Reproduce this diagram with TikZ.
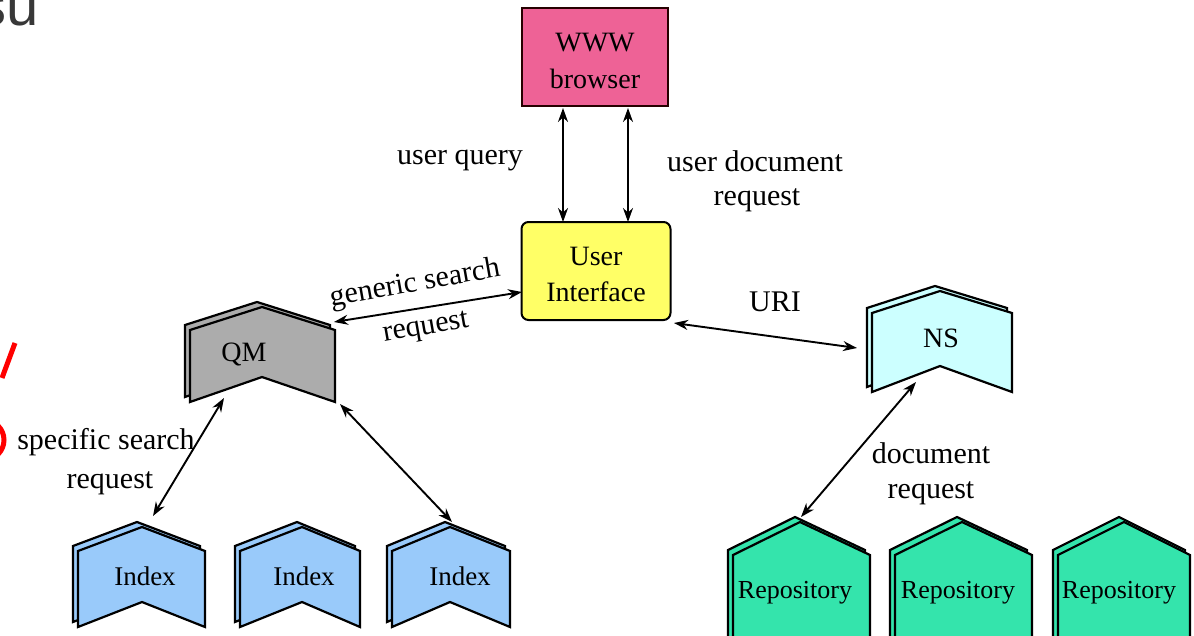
\documentclass[tikz,border=0pt]{standalone}
\usepackage{fontspec}
\setmainfont{Liberation Serif}
\newfontfamily\sansfnt{Liberation Sans}
\usetikzlibrary{arrows.meta}
\definecolor{pinkbox}{RGB}{238,98,150}
\definecolor{yellowbox}{RGB}{255,255,102}
\definecolor{qmgray}{RGB}{172,172,172}
\definecolor{idxblue}{RGB}{153,202,250}
\definecolor{nscyan}{RGB}{204,255,255}
\definecolor{repogreen}{RGB}{52,228,172}
\tikzset{
  lbl/.style={inner sep=0pt, font=\fontsize{30}{34}\selectfont},
  boxtxt/.style={inner sep=0pt, font=\fontsize{28}{34}\selectfont, align=center},
  shapeline/.style={draw=black, line width=2.2pt, line join=miter},
  conn/.style={line width=1.9pt, {Stealth[length=14pt,width=10pt]}-{Stealth[length=14pt,width=10pt]}}
}
% chevron: #1 L, #2 R, #3 P, #4 top corner y, #5 peak y, #6 bottom y, #7 notch y, #8 fill
\newcommand\chevshape[8]{%
  \filldraw[shapeline, fill=#8] ({#1-5},{#4-5}) -- ({#3-5},{#5-5}) -- ({#2-5},{#4-5}) -- ({#2-5},{#6-5}) -- ({#3-5},{#7-5}) -- ({#1-5},{#6-5}) -- cycle;
  \filldraw[shapeline, fill=#8] (#1,#4) -- (#3,#5) -- (#2,#4) -- (#2,#6) -- (#3,#7) -- (#1,#6) -- cycle;
}
% house: #1 L, #2 R, #3 P, #4 shoulder y, #5 peak y, #6 fill
\newcommand\houseshape[6]{%
  \filldraw[shapeline, fill=#6] ({#1-5},700) -- ({#1-5},{#4-5}) -- ({#3-5},{#5-5}) -- ({#2-5},{#4-5}) -- ({#2-5},700) -- cycle;
  \filldraw[shapeline, fill=#6] (#1,700) -- (#1,#4) -- (#3,#5) -- (#2,#4) -- (#2,700) -- cycle;
}
\begin{document}
\begin{tikzpicture}[x=1pt,y=-1pt]
\useasboundingbox (0,0) rectangle (1194,635);
\clip (0,0) rectangle (1194,635);
\fill[white] (0,0) rectangle (1194,635);

% fragments of neighbouring slide
\node[anchor=base east, inner sep=0pt, text=black!78, font=\sansfnt\fontsize{58}{58}\selectfont] (su) at (39,25) {su};
\draw[red, line width=5pt] (15,343) -- (2,378);
\draw[red, line width=5pt] (-16,440) circle (20);

% WWW browser
\node[draw=black!85!red, line width=2pt, fill=pinkbox, minimum width=146pt, minimum height=98pt, inner sep=0pt] (www) at (595,57) {};
\node[boxtxt] (wwwtxt) at (595,43) {WWW};
\node[boxtxt] (browsertxt) at (595,79) {browser};

% User interface
\node[draw=black, line width=2pt, fill=yellowbox, rounded corners=7pt, minimum width=149pt, minimum height=98pt, inner sep=0pt] (ui) at (596,271) {};
\node[boxtxt] (uitxt1) at (596,256) {User};
\node[boxtxt] (uitxt2) at (596,292) {Interface};

% QM
\chevshape{190}{335}{262}{330}{307}{402}{377}{qmgray}
\node[boxtxt] (qm) at (244,354) {QM};
% NS
\chevshape{872}{1012}{940}{313}{291}{392}{366}{nscyan}
\node[boxtxt] (ns) at (941,338) {NS};
% Index shapes
\chevshape{78}{205}{142}{551}{527}{627}{602}{idxblue}
\node[boxtxt, font=\fontsize{27}{30}\selectfont] (idx1) at (145,576) {Index};
\chevshape{240}{360}{302}{551}{527}{627}{602}{idxblue}
\node[boxtxt, font=\fontsize{27}{30}\selectfont] (idx2) at (304,576) {Index};
\chevshape{392}{510}{450}{551}{527}{627}{602}{idxblue}
\node[boxtxt, font=\fontsize{27}{30}\selectfont] (idx3) at (460,576) {Index};
% Repositories
\houseshape{733}{870}{800}{555}{522}{repogreen}
\node[boxtxt, font=\fontsize{26}{30}\selectfont] (rep1) at (795,593) {Repository};
\houseshape{895}{1032}{962}{555}{522}{repogreen}
\node[boxtxt, font=\fontsize{26}{30}\selectfont] (rep2) at (958,593) {Repository};
\houseshape{1058}{1190}{1124}{555}{522}{repogreen}
\node[boxtxt, font=\fontsize{26}{30}\selectfont] (rep3) at (1119,593) {Repository};

% connector end points
\coordinate (wwwL) at (563,108);
\coordinate (uiL) at (563,222);
\coordinate (wwwR) at (628,108);
\coordinate (uiR) at (628,222);
\coordinate (uiW) at (522,292);
\coordinate (qmNE) at (334,322);
\coordinate (uiE) at (674,323);
\coordinate (nsW) at (857,348);
\coordinate (qmS1) at (224,398);
\coordinate (idx1N) at (153,516);
\coordinate (qmS2) at (340,404);
\coordinate (idx3N) at (452,522);
\coordinate (nsS) at (916,382);
\coordinate (rep1N) at (801,517);

\draw[conn] (wwwL) -- (uiL);
\draw[conn] (wwwR) -- (uiR);
\draw[conn] (uiW) -- (qmNE);
\draw[conn] (uiE) -- (nsW);
\draw[conn] (qmS1) -- (idx1N);
\draw[conn] (qmS2) -- (idx3N);
\draw[conn] (nsS) -- (rep1N);

% labels
\node[lbl] (uq) at (460,161) {user query};
\node[lbl] (udr1) at (755,161) {user document};
\node[lbl] (udr2) at (757,200) {request};
\node[lbl, rotate=10] (gs1) at (415,284) {generic search};
\node[lbl, rotate=10] (gs2) at (426,329) {request};
\node[lbl] (uri) at (775,302) {URI};
\node[lbl] (ss1) at (106,442) {specific search};
\node[lbl] (ss2) at (110,483) {request};
\node[lbl] (dr1) at (931,453) {document};
\node[lbl] (dr2) at (931,493) {request};
\end{tikzpicture}
\end{document}
